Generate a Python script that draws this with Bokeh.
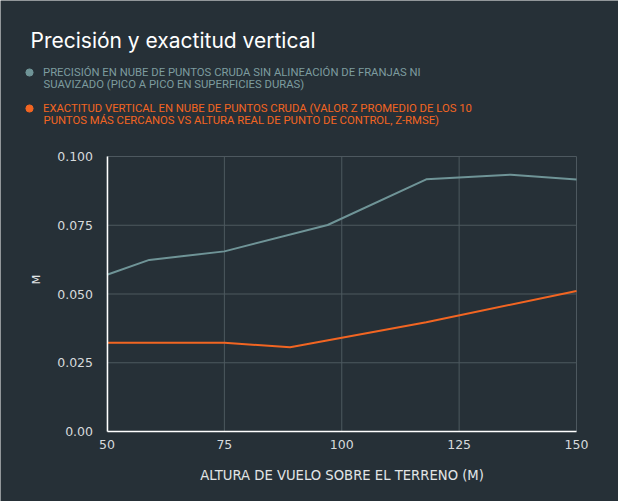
import math
from bokeh.plotting import figure
from bokeh.models import Range1d, FixedTicker, Legend, LegendItem, Label
from bokeh.embed import file_html
from bokeh.resources import INLINE

# ---- data ----
precision_x = [50, 59, 75, 97, 118, 136, 150]
precision_y = [0.0570, 0.0624, 0.0655, 0.0751, 0.0917, 0.0934, 0.0916]
accuracy_x = [50, 75, 89, 118, 150]
accuracy_y = [0.0323, 0.0323, 0.0306, 0.0397, 0.0511]

x_ticks = [50, 75, 100, 125, 150]
y_ticks = [0.0, 0.025, 0.05, 0.075, 0.1]
y_tick_labels = ["0.00", "0.025", "0.050", "0.075", "0.100"]

title_text = "Precisión y exactitud vertical"
series1_lines = ["PRECISIÓN EN NUBE DE PUNTOS CRUDA SIN ALINEACIÓN DE FRANJAS NI",
                 "SUAVIZADO (PICO A PICO EN SUPERFICIES DURAS)"]
series2_lines = ["EXACTITUD VERTICAL EN NUBE DE PUNTOS CRUDA (VALOR Z PROMEDIO DE LOS 10",
                 "PUNTOS MÁS CERCANOS VS ALTURA REAL DE PUNTO DE CONTROL, Z-RMSE)"]
x_title = "ALTURA DE VUELO SOBRE EL TERRENO (M)"
y_title = "M"

# ---- layout (pixels) ----
W, H = 618, 501
FRAME_L, FRAME_R, FRAME_T, FRAME_B = 106.5, 576.0, 156.0, 431.0

BG = "#263037"
C1 = "#6f9497"
C1_TEXT = "#7d9c9f"
C2 = "#f26522"
GRID = "#4d585f"
LEG_FONT = "Roboto"
LEG_SIZE = "11.3px"

x0, x1 = min(x_ticks), max(x_ticks)
y0, y1 = min(y_ticks), max(y_ticks)
kx = (FRAME_R - FRAME_L) / (x1 - x0)
ky = (FRAME_B - FRAME_T) / (y1 - y0)
x_range = Range1d(x0 - FRAME_L / kx, x1 + (W - FRAME_R) / kx)
y_range = Range1d(y0 - (H - FRAME_B) / ky, y1 + FRAME_T / ky)

p = figure(width=W, height=H, output_backend="svg", toolbar_location=None,
           x_range=x_range, y_range=y_range, min_border=0)
p.background_fill_color = BG
p.border_fill_color = BG
p.outline_line_color = None
p.grid.visible = False

# grid lines, bounded to the tick span
p.segment(x0=x_ticks, y0=[y0] * len(x_ticks), x1=x_ticks, y1=[y1] * len(x_ticks),
          line_color=GRID, line_width=1)
p.segment(x0=[x0] * len(y_ticks), y0=y_ticks, x1=[x1] * len(y_ticks), y1=y_ticks,
          line_color=GRID, line_width=1)

p.line(precision_x, precision_y, line_color=C1, line_width=2)
p.line(accuracy_x, accuracy_y, line_color=C2, line_width=2)

# hidden renderers that only supply legend markers
m1 = p.scatter(precision_x[:1], precision_y[:1], marker="circle", color=C1, visible=False)
m2 = p.scatter(accuracy_x[:1], accuracy_y[:1], marker="circle", color=C2, visible=False)

# ---- axes ----
p.xaxis.ticker = FixedTicker(ticks=x_ticks)
p.yaxis.ticker = FixedTicker(ticks=y_ticks)
p.yaxis.major_label_overrides = dict(zip(y_ticks, y_tick_labels))
p.xaxis.fixed_location = y0
p.yaxis.fixed_location = x0
p.xaxis.bounds = (x0, x1)
p.yaxis.bounds = (y0, y1)
for ax in (p.xaxis[0], p.yaxis[0]):
    ax.axis_line_color = "white"
    ax.axis_line_width = 1.5
    ax.major_tick_line_color = None
    ax.minor_tick_line_color = None
    ax.major_tick_out = 0
    ax.major_tick_in = 0
    ax.minor_tick_out = 0
    ax.minor_tick_in = 0
    ax.major_label_text_color = "#d6dadc"
    ax.major_label_text_font = "DejaVu Sans"
    ax.major_label_text_font_size = "12.5px"
    ax.axis_label_text_font = "DejaVu Sans"
    ax.axis_label_text_font_style = "normal"
    ax.axis_label_text_color = "#e2e5e6"
p.xaxis.major_label_standoff = 8
p.yaxis.major_label_standoff = 14
p.xaxis.axis_label = x_title
p.xaxis.axis_label_text_font_size = "13.2px"
p.xaxis.axis_label_standoff = 16

# y axis title, placed beside the tick labels
p.add_layout(Label(x=36, y=H - 279, x_units="screen", y_units="screen", text=y_title,
                   angle=math.pi / 2, text_align="center", text_baseline="middle",
                   text_font="DejaVu Sans", text_font_size="11px", text_color="#e2e5e6"))

# ---- header: title + legend ----
p.add_layout(Label(x=30, y=H - 40, x_units="screen", y_units="screen", text=title_text,
                   text_font="Inter", text_font_size="21px", text_color="white",
                   text_baseline="alphabetic"))

def make_legend(renderer, text, color, loc):
    return Legend(items=[LegendItem(label=text, renderers=[renderer])],
                  location=loc, orientation="vertical",
                  glyph_width=18, glyph_height=18, label_height=18,
                  label_standoff=5, padding=0, margin=0, spacing=0,
                  background_fill_alpha=0, border_line_color=None,
                  label_text_font=LEG_FONT, label_text_font_size=LEG_SIZE,
                  label_text_color=color)

p.add_layout(make_legend(m1, series1_lines[0], C1_TEXT, (20, H - 81)))
p.add_layout(make_legend(m2, series2_lines[0], C2, (20, H - 117)))

p.add_layout(Label(x=43, y=H - 84, x_units="screen", y_units="screen",
                   text=series1_lines[1], text_font=LEG_FONT, text_font_size=LEG_SIZE,
                   text_color=C1_TEXT, text_baseline="alphabetic"))
p.add_layout(Label(x=43, y=H - 119.5, x_units="screen", y_units="screen",
                   text=series2_lines[1], text_font=LEG_FONT, text_font_size=LEG_SIZE,
                   text_color=C2, text_baseline="alphabetic"))

open("out.html", "w").write(file_html(p, INLINE))
